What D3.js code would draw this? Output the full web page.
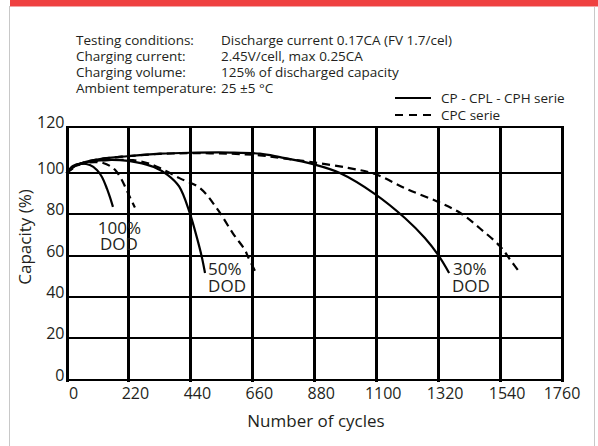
<!DOCTYPE html>
<html>
<head>
<meta charset="UTF-8">
<title>Capacity vs number of cycles</title>
<script src="https://cdn.jsdelivr.net/npm/d3@7"></script>
<style>
body { margin: 0; background: #fff; }
text { font-family: "Open Sans", sans-serif; fill: #231f20; }
.grid rect { shape-rendering: crispEdges; }
</style>
<script>
// values: [cycles, capacity %]
var xTicks = [0, 220, 440, 660, 880, 1100, 1320, 1540, 1760]
var yTicks = [0, 20, 40, 60, 80, 100, 120]

var solid100 = [[0,100],[23,103],[51,104],[83,103.4],[108,101.3],[126,98.1],[144,92.3],[154,88.4],[165,83.6]]
var dash100  = [[0,100],[30,103],[66,104.3],[101,104.7],[130,104.3],[155,103],[176,100.9],[194,97.3],[211,92.5],[229,87.2],[243,83.3]]
var solid50  = [[0,100],[30,103],[66,104.5],[119,105.4],[190,105.5],[250,104.6],[310,102.6],[360,99],[400,93.5],[438,80.6],[462,69.3],[480,59.7],[492,51.6]]
var dash50   = [[0,100],[48,103.8],[119,105.3],[190,105.7],[236,105.5],[286,104.3],[332,102.1],[403,97.4],[474,92.7],[534,82.9],[591,70.8],[634,62.7],[645,59.3],[677,50.6]]
var solid30  = [[0,100],[30,103],[66,104.7],[119,106],[215,107.2],[332,108.3],[437,108.7],[580,108.8],[687,108.3],[758,106.8],[876,103.8],[971,100],[1096,89.8],[1202,78.2],[1273,68.5],[1320,60.3],[1359,51.6]]
var dash30   = [[0,100],[30,103],[66,104.7],[119,106],[215,107.2],[332,108.2],[437,108.5],[580,108.3],[687,107.6],[758,106.5],[876,104.6],[1000,102.2],[1096,99.5],[1206,92.4],[1320,86],[1400,80.5],[1470,73],[1540,64.5],[1576,58],[1611,51.6]]

var conditions = [
	["Testing conditions:", "Discharge current 0.17CA (FV 1.7/cel)"],
	["Charging current:", "2.45V/cell, max 0.25CA"],
	["Charging volume:", "125% of discharged capacity"],
	["Ambient temperature:", "25 \u00b15 \u00b0C"]
]
var legendLabels = ["CP - CPL - CPH serie", "CPC serie"]

// DOD notes, placed in data units [cycles, capacity]
var notes = [
	["100%", 111, 70.5], ["DOD", 119, 62.7],
	["50%", 503, 50.6], ["DOD", 503, 42.6],
	["30%", 1373, 50.6], ["DOD", 1369, 42.6]
]
</script>
</head>
<body>
<div id="chart"></div>
<script>
var W = 598, H = 446
var svg = d3.select("#chart").append("svg")
	.attr("width", W).attr("height", H)

// frame: red strip on top, grey sides
svg.append("rect").attr("x", 10).attr("y", 0).attr("width", W - 10).attr("height", 6).attr("fill", "#ef4140")
svg.append("rect").attr("x", 10).attr("y", 6).attr("width", W - 10).attr("height", 1).attr("fill", "#f4a3a3")
svg.append("rect").attr("x", 9).attr("y", 6).attr("width", 1).attr("height", H).attr("fill", "#c8c8c8")
svg.append("rect").attr("x", 594).attr("y", 7).attr("width", 1).attr("height", H).attr("fill", "#c8c8c8")

var xs = d3.scaleLinear().domain([0, 1760]).range([66.5, 562])
var ys = d3.scaleLinear().domain([0, 100, 120]).range([379.5, 173, 126.5])

// grid bars snapped to whole pixels
var gridTop = Math.round(ys(120)), gridBottom = Math.round(ys(0))
var grid = svg.append("g").attr("class", "grid")
grid.selectAll("rect.v").data(xTicks).enter().append("rect").attr("class", "v")
	.attr("x", function(d) { return Math.round(xs(d)) - 1 })
	.attr("y", gridTop - 1)
	.attr("width", 3)
	.attr("height", gridBottom - gridTop + 3)
	.attr("fill", "#000")
grid.selectAll("rect.h").data(yTicks).enter().append("rect").attr("class", "h")
	.attr("x", Math.round(xs(0)) - 1)
	.attr("y", function(d) { return Math.round(ys(d)) - 1 })
	.attr("width", Math.round(xs(1760)) - Math.round(xs(0)) + 3)
	.attr("height", 2)
	.attr("fill", "#000")

// tick labels (x labels sit a little right of their grid line)
svg.append("g").selectAll("text").data(xTicks).enter().append("text")
	.attr("x", function(d, i) { return i == xTicks.length - 1 ? xs(d) : xs(d) + 7 })
	.attr("y", 399)
	.attr("text-anchor", "middle").attr("font-size", 16)
	.text(function(d) { return d })
svg.append("g").selectAll("text").data(yTicks).enter().append("text")
	.attr("x", xs(0) - 2).attr("y", function(d) { return ys(d) + 1 })
	.attr("text-anchor", "end").attr("font-size", 16)
	.text(function(d) { return d })

svg.append("text").attr("x", 316).attr("y", 427)
	.attr("text-anchor", "middle").attr("font-size", 17).text("Number of cycles")
svg.append("text").attr("transform", "translate(31,237) rotate(-90)")
	.attr("text-anchor", "middle").attr("font-size", 17).text("Capacity (%)")

// curves
var curveLine = d3.line()
	.x(function(d) { return xs(d[0]) })
	.y(function(d) { return ys(d[1]) })
	.curve(d3.curveCatmullRom.alpha(0.5))

var curves = [[solid100, null], [solid50, null], [solid30, null], [dash100, "8,5"], [dash50, "8,5"], [dash30, "8,5"]]
svg.append("g").selectAll("path").data(curves).enter().append("path")
	.attr("d", function(d) { return curveLine(d[0]) })
	.attr("fill", "none").attr("stroke", "#000").attr("stroke-width", 2.2)
	.attr("stroke-dasharray", function(d) { return d[1] })

// DOD notes
svg.append("g").selectAll("text").data(notes).enter().append("text")
	.attr("x", function(d) { return xs(d[1]) }).attr("y", function(d) { return ys(d[2]) })
	.attr("font-size", 17)
	.text(function(d) { return d[0] })

// test conditions
var cond = svg.append("g").selectAll("g").data(conditions).enter().append("g")
cond.append("text").attr("x", 76).attr("y", function(d, i) { return 45 + i * 16 })
	.attr("font-size", 13.5).text(function(d) { return d[0] })
cond.append("text").attr("x", 221).attr("y", function(d, i) { return 45 + i * 16 })
	.attr("font-size", 13.5).text(function(d) { return d[1] })

// legend
var leg = svg.append("g").selectAll("g").data(legendLabels).enter().append("g")
	.attr("transform", function(d, i) { return "translate(0," + (98 + i * 17) + ")" })
leg.append("line").attr("x1", 395).attr("x2", 431).attr("y1", 0).attr("y2", 0)
	.attr("stroke", "#000").attr("stroke-width", 2.2)
	.attr("stroke-dasharray", function(d, i) { return i ? "8,6" : null })
leg.append("text").attr("x", 441).attr("y", 5).attr("font-size", 13.5)
	.text(function(d) { return d })
</script>
</body>
</html>
